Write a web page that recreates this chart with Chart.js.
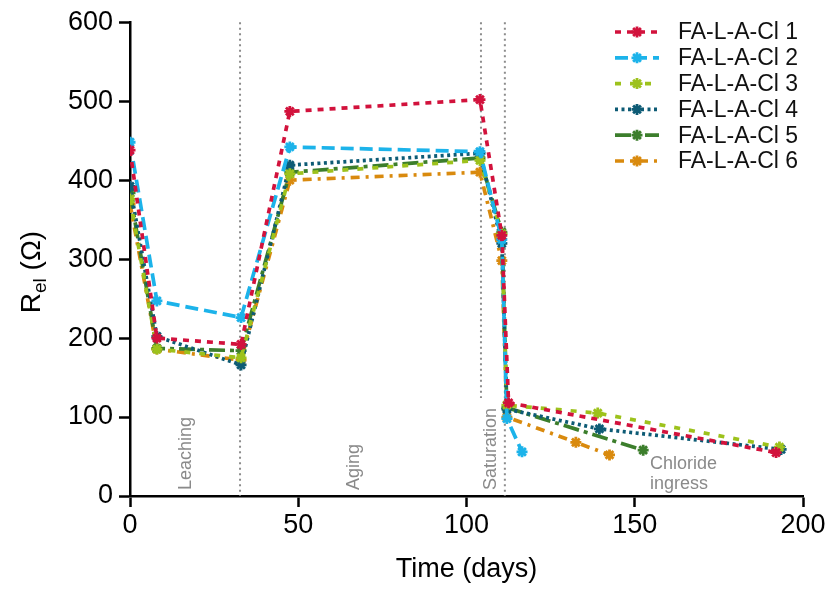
<!DOCTYPE html>
<html><head><meta charset="utf-8">
<script src="https://cdn.jsdelivr.net/npm/chart.js@4.4.1/dist/chart.umd.min.js"></script>
<style>html,body{margin:0;padding:0;background:#fff}#wrap{width:831px;height:592px}</style>
</head><body><div id="wrap"><canvas id="c" width="831" height="592"></canvas></div>
<script>
const seriesNames = ["FA-L-A-Cl 1","FA-L-A-Cl 2","FA-L-A-Cl 3","FA-L-A-Cl 4","FA-L-A-Cl 5","FA-L-A-Cl 6"];
const days1 = [0, 8, 33, 47.5, 104, 110.5, 112.5, 192];
const vals1 = [438, 200, 192, 487, 502, 330, 118, 55];
const days2 = [0, 8, 33, 47.5, 104, 110.5, 112, 116.5];
const vals2 = [448, 247, 226, 442, 436, 325, 98, 56];
const days3 = [0, 8, 33, 47.5, 104, 110.5, 112, 139, 193];
const vals3 = [376, 186, 175, 408, 425, 332, 115, 105, 62];
const days4 = [0, 8, 33, 47.5, 104, 110.5, 112, 139.5, 193.5];
const vals4 = [392, 202, 166, 419, 434, 320, 110, 85, 59];
const days5 = [0, 8, 33, 47.5, 104, 110.5, 112, 152.5];
const vals5 = [384, 187, 184, 410, 428, 334, 112, 58];
const days6 = [0, 8, 33, 47.5, 104, 110.5, 112, 132.5, 142.5];
const vals6 = [370, 186, 172, 400, 410, 298, 100, 68, 52];
const xTickValues = [0, 50, 100, 150, 200];
const yTickValues = [0, 100, 200, 300, 400, 500, 600];
const phaseLineDays = [32.7, 104.3, 111.4];
const phaseLabels = ["Leaching", "Aging", "Saturation"];
const phaseLabelDays = [16.6, 66.5, 107.3];
const chlorideLabel = ["Chloride", "ingress"];

const colors = ["#d2123c", "#1cb3ea", "#9dc21c", "#0d5b75", "#3c7e2c", "#d98a0e"];
const dashes = [[6,6], [13,6], [6,9], [3,3.5], [16,5,4,5], [9,6,3,6]];

const allDays = [days1, days2, days3, days4, days5, days6];
const allVals = [vals1, vals2, vals3, vals4, vals5, vals6];

const datasets = seriesNames.map((n, i) => ({
  label: n,
  data: allDays[i].map((d, k) => ({x: d, y: allVals[i][k]})),
  borderColor: colors[i],
  backgroundColor: colors[i],
  borderWidth: 3.7,
  borderDash: dashes[i],
  pointStyle: 'star',
  pointRadius: 5.5,
  pointBorderWidth: 2.8,
  pointBorderColor: colors[i],
  tension: 0,
  fill: false
}));

const FONT = "'Liberation Sans', Arial, sans-serif";

function drawStar(ctx, cx, cy, r) {
  const d = r * Math.SQRT1_2;
  ctx.beginPath();
  ctx.moveTo(cx - r, cy); ctx.lineTo(cx + r, cy);
  ctx.moveTo(cx, cy - r); ctx.lineTo(cx, cy + r);
  ctx.moveTo(cx - d, cy - d); ctx.lineTo(cx + d, cy + d);
  ctx.moveTo(cx + d, cy - d); ctx.lineTo(cx - d, cy + d);
  ctx.stroke();
}

const decor = {
  id: 'decor',
  beforeDatasetsDraw(chart) {
    const ctx = chart.ctx, xs = chart.scales.x, ys = chart.scales.y;
    const top = chart.chartArea.top, bottom = chart.chartArea.bottom;
    ctx.save();
    ctx.strokeStyle = '#8c8c8c';
    ctx.lineWidth = 2;
    ctx.setLineDash([2, 3.5]);
    phaseLineDays.forEach((d, i) => {
      const px = xs.getPixelForValue(d);
      const yEnd = i === 1 ? ys.getPixelForValue(124) : bottom;
      ctx.beginPath(); ctx.moveTo(px, top); ctx.lineTo(px, yEnd); ctx.stroke();
    });
    ctx.setLineDash([]);
    ctx.fillStyle = '#8a8a8a';
    ctx.font = '18px ' + FONT;
    ctx.textBaseline = 'middle';
    ctx.textAlign = 'left';
    phaseLabels.forEach((t, i) => {
      const px = xs.getPixelForValue(phaseLabelDays[i]);
      const py = ys.getPixelForValue(7.5);
      ctx.save(); ctx.translate(px, py); ctx.rotate(-Math.PI/2);
      ctx.fillText(t, 0, 0); ctx.restore();
    });
    const cx = xs.getPixelForValue(154.5);
    ctx.fillText(chlorideLabel[0], cx, ys.getPixelForValue(40));
    ctx.fillText(chlorideLabel[1], cx, ys.getPixelForValue(15));
    ctx.restore();
  },
  afterDraw(chart) {
    const ctx = chart.ctx;
    ctx.save();
    seriesNames.forEach((n, i) => {
      const y = 32 + i * 25.8;
      ctx.strokeStyle = colors[i];
      ctx.lineWidth = 3.7;
      ctx.setLineDash(dashes[i]);
      ctx.beginPath(); ctx.moveTo(615, y); ctx.lineTo(659, y); ctx.stroke();
      ctx.setLineDash([]);
      ctx.lineWidth = 2.8;
      drawStar(ctx, 637, y, 5.5);
      ctx.fillStyle = '#111';
      ctx.font = '23px ' + FONT;
      ctx.textBaseline = 'middle';
      ctx.textAlign = 'left';
      ctx.fillText(n, 678, y + 1);
    });
    ctx.fillStyle = '#000';
    ctx.font = '27px ' + FONT;
    ctx.textAlign = 'center';
    ctx.textBaseline = 'middle';
    ctx.fillText('Time (days)', (chart.chartArea.left + chart.chartArea.right) / 2, 570);
    ctx.save();
    ctx.translate(40, 272);
    ctx.rotate(-Math.PI/2);
    ctx.textAlign = 'left';
    ctx.textBaseline = 'alphabetic';
    const big = '28px ' + FONT, small = '19px ' + FONT;
    ctx.font = big; const wR = ctx.measureText('R').width;
    ctx.font = small; const wS = ctx.measureText('el').width;
    ctx.font = big; const wP = ctx.measureText(' (Ω)').width;
    let x0 = -(wR + wS + wP) / 2;
    ctx.font = big; ctx.fillText('R', x0, 0);
    ctx.font = small; ctx.fillText('el', x0 + wR, 6);
    ctx.font = big; ctx.fillText(' (Ω)', x0 + wR + wS, 0);
    ctx.restore();
    ctx.restore();
  }
};

new Chart(document.getElementById('c'), {
  type: 'line',
  data: { datasets },
  options: {
    responsive: false,
    animation: false,
    devicePixelRatio: 1,
    layout: { padding: { left: 0, top: 18, right: 28, bottom: 0 } },
    plugins: { legend: { display: false }, tooltip: { enabled: false } },
    scales: {
      x: {
        type: 'linear', min: 0, max: 200,
        afterFit(s) { s.height = 96; },
        afterBuildTicks(s) { s.ticks = xTickValues.map(v => ({value: v})); },
        ticks: { color: '#000', font: { size: 27, family: FONT }, padding: 2, maxRotation: 0 },
        grid: { display: true, drawOnChartArea: false, drawTicks: true, tickLength: 11, tickWidth: 2.5, tickColor: '#000' },
        border: { display: true, color: '#000', width: 2.5 }
      },
      y: {
        type: 'linear', min: 0, max: 600,
        afterFit(s) { s.width = 130; },
        afterBuildTicks(s) { s.ticks = yTickValues.map(v => ({value: v})); },
        ticks: { color: '#000', font: { size: 27, family: FONT }, padding: 6 },
        grid: { display: true, drawOnChartArea: false, drawTicks: true, tickLength: 11, tickWidth: 2.5, tickColor: '#000' },
        border: { display: true, color: '#000', width: 2.5 }
      }
    }
  },
  plugins: [decor]
});
</script></body></html>
